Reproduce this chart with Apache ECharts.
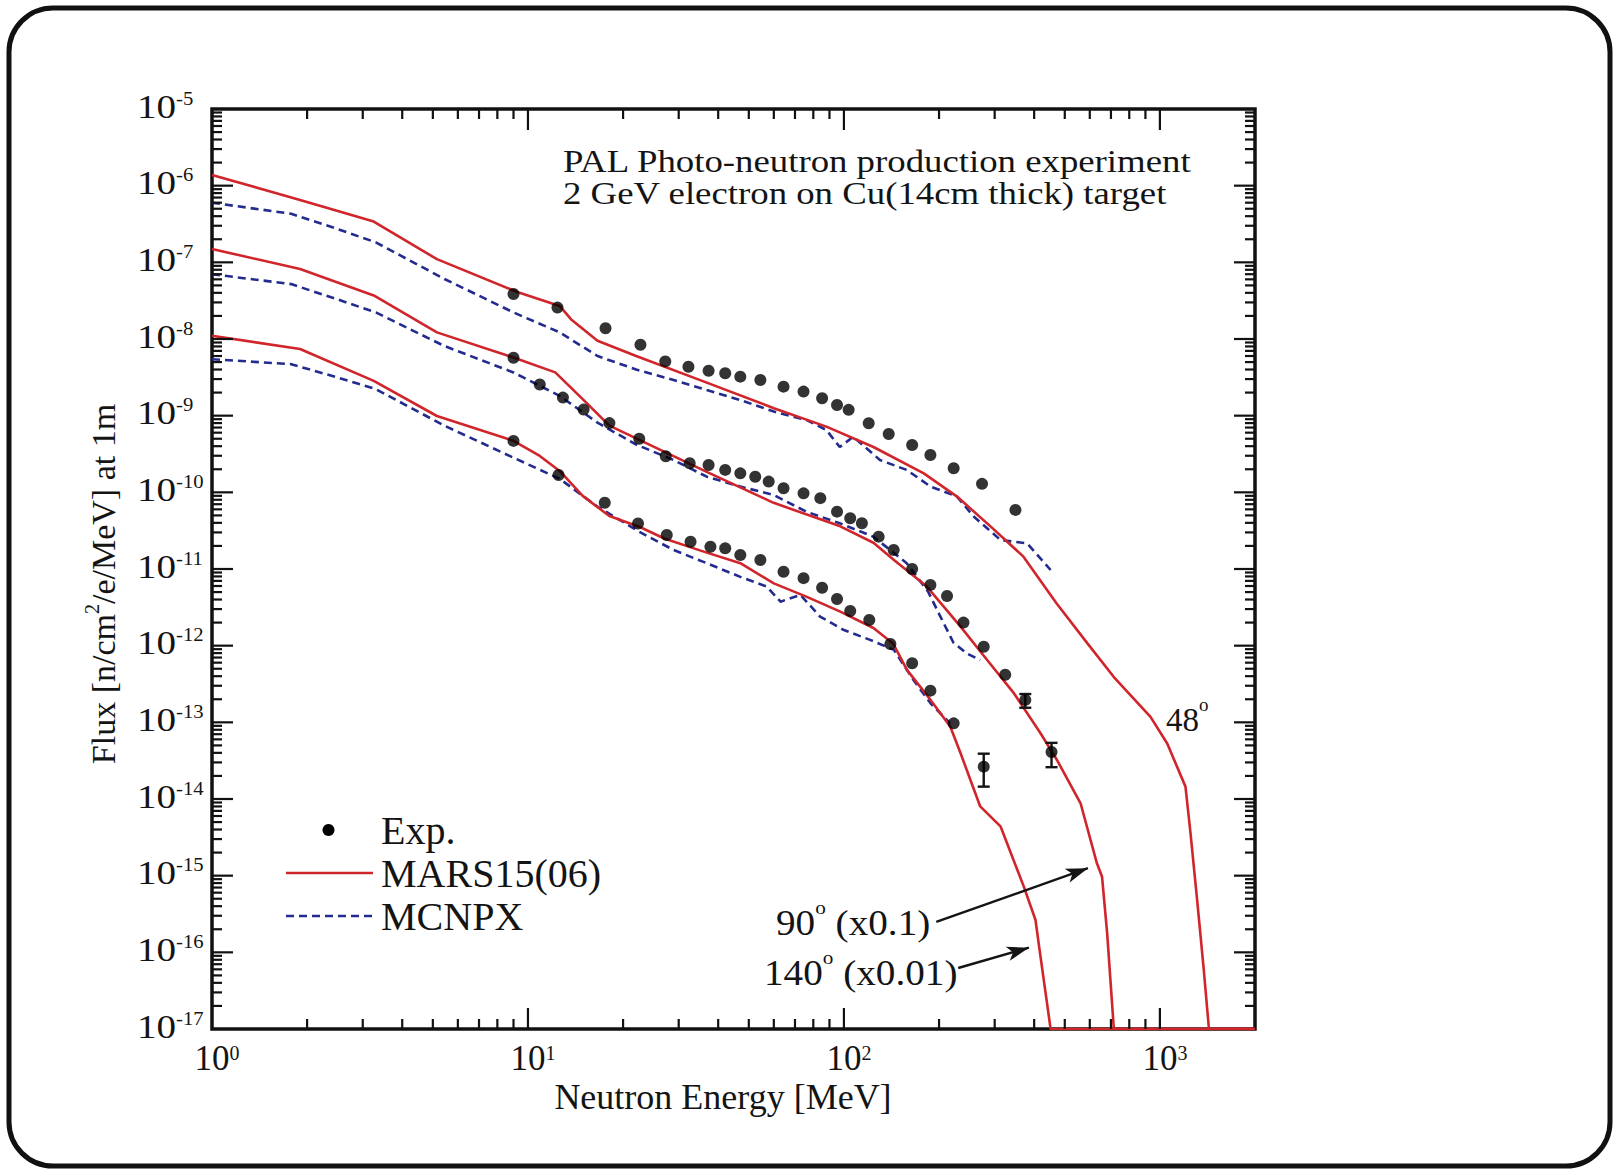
<!DOCTYPE html>
<html>
<head>
<meta charset="utf-8">
<title>PAL photo-neutron spectra</title>
<script src="https://cdn.jsdelivr.net/npm/echarts@6/dist/echarts.min.js"></script>
<style>
  html, body { margin: 0; padding: 0; background: #ffffff; }
  #chart { width: 1619px; height: 1174px; }
</style>
</head>
<body>
<div id="chart"></div>
<script>
// ---- Measured neutron spectra: [energy MeV, flux n/cm^2/e/MeV at 1 m] ----
const exp48 = [
  [9.0, 3.86e-8], [12.4, 2.57e-8], [17.6, 1.38e-8], [22.7, 8.4e-9], [27.2, 5.1e-9],
  [32.2, 4.35e-9], [37.3, 3.86e-9], [42.1, 3.57e-9], [47, 3.23e-9], [54.4, 2.92e-9],
  [64.4, 2.39e-9], [74.5, 2.06e-9], [85.3, 1.69e-9], [95.1, 1.38e-9], [103.5, 1.19e-9],
  [119.8, 7.95e-10], [138.6, 5.77e-10], [164.4, 4.15e-10], [187.8, 3.07e-10],
  [222.5, 2.06e-10], [273.6, 1.29e-10], [349, 5.9e-11]
];
const exp90 = [
  [9.0, 5.7e-9], [10.9, 2.55e-9], [12.9, 1.72e-9], [15.0, 1.2e-9], [18.1, 8.0e-10],
  [22.5, 5.0e-10], [27.3, 2.95e-10], [32.5, 2.4e-10], [37.3, 2.27e-10], [42.1, 1.96e-10],
  [47, 1.77e-10], [52.4, 1.6e-10], [57.8, 1.38e-10], [64.4, 1.13e-10], [74.5, 9.7e-11],
  [84.2, 8.4e-11], [95.1, 5.6e-11], [104.7, 4.6e-11], [114, 3.95e-11], [128.8, 2.64e-11],
  [143.7, 1.77e-11], [164.4, 1.0e-11], [187.8, 6.2e-12], [212, 4.45e-12], [239, 2.0e-12],
  [277, 9.7e-13], [324, 4.17e-13], [375, 1.96e-13], [454, 4.1e-14]
];
const exp140 = [
  [9.0, 4.69e-10], [12.5, 1.68e-10], [17.5, 7.3e-11], [22.3, 3.93e-11], [27.5, 2.78e-11],
  [32.7, 2.27e-11], [37.8, 1.95e-11], [42.1, 1.86e-11], [47, 1.52e-11], [54.4, 1.31e-11],
  [64.4, 9.2e-12], [74.5, 7.6e-12], [85.3, 5.7e-12], [95.1, 4.07e-12], [104.7, 2.83e-12],
  [120.3, 2.16e-12], [140.3, 1.05e-12], [164.4, 5.9e-13], [187.8, 2.59e-13],
  [222.5, 9.7e-14], [277, 2.64e-14]
];
// [energy, lower flux, upper flux] for the points carrying error bars
const expErrorBars = [
  [375, 1.55e-13, 2.34e-13],
  [454, 2.6e-14, 5.4e-14],
  [277, 1.45e-14, 3.9e-14]
];

// ---- MARS15(06) calculations ----
const mars48 = [
  [1.0, 1.38e-6], [1.9, 6.5e-7], [3.25, 3.4e-7], [5.15, 1.1e-7], [9.25, 4.1e-8],
  [12.6, 2.7e-8], [13.7, 1.8e-8], [16.6, 9.5e-9], [22, 6.0e-9], [36.8, 2.7e-9],
  [60, 1.25e-9], [88, 7.2e-10], [124, 3.9e-10], [179, 1.77e-10], [228, 8.8e-11],
  [291, 3.6e-11], [370, 1.45e-11], [470, 3.6e-12], [589, 1.08e-12], [715, 3.9e-13],
  [934, 1.18e-13], [1055, 5.3e-14], [1205, 1.45e-14], [1250, 3.6e-15], [1312, 4.8e-16],
  [1374, 6.5e-17], [1430, 1e-17], [2000, 1e-17]
];
const mars90 = [
  [1.0, 1.49e-7], [1.9, 8.2e-8], [3.25, 3.7e-8], [5.15, 1.22e-8], [9.0, 5.75e-9],
  [12.2, 3.67e-9], [14.9, 1.64e-9], [18.1, 7.4e-10], [22.6, 4.8e-10], [36.8, 1.85e-10],
  [59.9, 7.3e-11], [97.4, 3.6e-11], [124, 2.2e-11], [144, 1.31e-11], [183, 5.9e-12],
  [234, 1.77e-12], [284, 6.5e-13], [345, 2.4e-13], [419, 7.2e-14], [473, 3.2e-14],
  [561, 8.8e-15], [632, 1.45e-15], [656, 9.7e-16], [681, 1.77e-16], [715, 1e-17],
  [2000, 1e-17]
];
const mars140 = [
  [1.0, 1.1e-8], [1.9, 7.4e-9], [3.25, 2.84e-9], [5.15, 9.9e-10], [9.0, 4.7e-10],
  [10.9, 2.98e-10], [12.6, 1.9e-10], [14.9, 9.0e-11], [18.1, 4.9e-11], [22.7, 3.5e-11],
  [27, 2.5e-11], [35, 1.75e-11], [47, 1.19e-11], [60, 6.5e-12], [76, 4.36e-12],
  [97, 2.8e-12], [124, 1.7e-12], [143, 1.07e-12], [158.5, 4.8e-13], [188, 1.96e-13],
  [217, 8.8e-14], [234, 3.95e-14], [270, 8e-15], [313, 4.4e-15], [371, 7.2e-16],
  [404, 2.64e-16], [414, 1.25e-16], [451, 1e-17], [2000, 1e-17]
];

// ---- MCNPX calculations ----
const mcnp48 = [
  [1.0, 6.0e-7], [1.78, 4.3e-7], [2.49, 2.73e-7], [3.3, 1.82e-7], [5.44, 6.07e-8],
  [9.0, 2.22e-8], [12.6, 1.22e-8], [16.6, 6.0e-9], [22, 4.0e-9], [28.9, 2.92e-9],
  [36.8, 2.16e-9], [47, 1.6e-9], [60, 1.13e-9], [76, 8.8e-10], [88, 6.5e-10],
  [97, 3.9e-10], [107, 5.3e-10], [130, 2.64e-10], [158, 1.96e-10], [188, 1.19e-10],
  [228, 8.8e-11], [258, 4.8e-11], [313, 2.39e-11], [380, 2.16e-11], [451, 9.7e-12]
];
const mcnp90 = [
  [1.0, 7.0e-8], [1.78, 5.2e-8], [2.49, 3.3e-8], [3.3, 2.22e-8], [5.44, 8.1e-9],
  [9.0, 3.66e-9], [12.6, 1.81e-9], [16.6, 8.1e-10], [22, 4.2e-10], [28.9, 2.64e-10],
  [36.8, 1.6e-10], [47, 1.19e-10], [60, 9.2e-11], [76, 5.6e-11], [97, 3.95e-11],
  [124, 2.64e-11], [158, 1.19e-11], [185, 5.0e-12], [200, 2.6e-12], [222, 1.1e-12],
  [245, 7.9e-13], [270, 6.5e-13]
];
const mcnp140 = [
  [1.0, 5.45e-9], [1.78, 4.7e-9], [2.49, 3.15e-9], [3.3, 2.22e-9], [5.44, 7.4e-10],
  [9.0, 2.83e-10], [12.6, 1.5e-10], [16.6, 6.5e-11], [22.7, 3.0e-11], [28.9, 1.77e-11],
  [36.8, 1.19e-11], [47, 7.9e-12], [57, 5.9e-12], [63, 3.75e-12], [72.8, 4.6e-12],
  [84, 2.4e-12], [100, 1.6e-12], [121, 1.19e-12], [144, 8.8e-13], [166, 3.56e-13],
  [188, 1.77e-13], [217, 9.7e-14]
];

// ---- Axis ranges and decade labels ----
const X_MIN = 1, X_MAX = 2000;
const Y_MIN = 1e-17, Y_MAX = 1e-5;
const xLabelPowers = [0, 1, 2, 3];
const yLabelPowers = [-5, -6, -7, -8, -9, -10, -11, -12, -13, -14, -15, -16, -17];

// ---- Annotation arrows (data space): tail, tip ----
const arrow90 = [[196, 2.49e-16], [592, 1.25e-15]];
const arrow140 = [[230, 6.25e-17], [385, 1.15e-16]];

const SERIF = "'Liberation Serif','Times New Roman',Times,serif";
const INK = '#141414';
const RED = '#d0252b';
const BLUE = '#232c8e';
const LINE_W = 2.6;
const DASH = [8, 5];

function marsSeries(data, extra) {
  return Object.assign({
    type: 'line', name: 'MARS15(06)', data: data,
    symbol: 'none', showSymbol: false,
    lineStyle: { color: RED, width: LINE_W },
    itemStyle: { color: RED },
    z: 4
  }, extra || {});
}
function mcnpSeries(data) {
  return {
    type: 'line', name: 'MCNPX', data: data,
    symbol: 'none', showSymbol: false,
    lineStyle: { color: BLUE, width: LINE_W, type: DASH },
    itemStyle: { color: BLUE },
    z: 3
  };
}
function expSeries(data) {
  return {
    type: 'scatter', name: 'Exp.', data: data,
    symbol: 'circle', symbolSize: 12,
    itemStyle: { color: '#000000' },
    z: 6
  };
}

// Log-decade ticks on all four sides plus the decade labels
function renderFrame(params, api) {
  const bl = api.coord([X_MIN, Y_MIN]);
  const tr = api.coord([X_MAX, Y_MAX]);
  const xL = bl[0], yB = bl[1], xR = tr[0], yT = tr[1];
  const els = [];
  const tick = (x1, y1, x2, y2) => els.push({
    type: 'line', shape: { x1: x1, y1: y1, x2: x2, y2: y2 },
    style: { stroke: '#111', lineWidth: 2.2 }
  });
  const MAJOR = 21, MINOR = 10;
  for (let d = 0; d <= 3; d++) {
    for (let m = 1; m <= 9; m++) {
      const v = m * Math.pow(10, d);
      if (v <= X_MIN || v >= X_MAX) continue;
      const x = api.coord([v, Y_MIN])[0];
      const len = m === 1 ? MAJOR : MINOR;
      tick(x, yB, x, yB - len);
      tick(x, yT, x, yT + len);
    }
  }
  for (let d = -17; d <= -6; d++) {
    for (let m = 1; m <= 9; m++) {
      const v = m * Math.pow(10, d);
      if (v <= Y_MIN || v >= Y_MAX) continue;
      const y = api.coord([X_MIN, v])[1];
      const len = m === 1 ? MAJOR : MINOR;
      tick(xL, y, xL + len, y);
      tick(xR, y, xR - len, y);
    }
  }
  xLabelPowers.forEach(function (p) {
    const x = api.coord([Math.pow(10, p), Y_MIN])[0];
    els.push({
      type: 'text', x: x - 17.5, y: yB + 29,
      style: {
        text: '{b|10}{e|' + p + '}', align: 'left', verticalAlign: 'middle',
        fill: INK, fontFamily: SERIF,
        rich: {
          b: { fontSize: 35, lineHeight: 30, fontFamily: SERIF, fill: INK },
          e: { fontSize: 20, lineHeight: 20, verticalAlign: 'top', fontFamily: SERIF, fill: INK }
        }
      }
    });
  });
  yLabelPowers.forEach(function (p) {
    const y = api.coord([X_MIN, Math.pow(10, p)])[1];
    els.push({
      type: 'text', x: xL - 75, y: y - 3, scaleX: 1.15,
      style: {
        text: '{b|10}{e|-' + (-p) + '}', align: 'left', verticalAlign: 'middle',
        fill: INK, fontFamily: SERIF,
        rich: {
          b: { fontSize: 34, lineHeight: 33, fontFamily: SERIF, fill: INK },
          e: { fontSize: 18, lineHeight: 18, verticalAlign: 'top', fontFamily: SERIF, fill: INK }
        }
      }
    });
  });
  return { type: 'group', children: els };
}

function renderErrorBar(params, api) {
  const e = api.value(0);
  const lo = api.coord([e, api.value(1)]);
  const hi = api.coord([e, api.value(2)]);
  const hw = 6;
  const st = { stroke: INK, lineWidth: 2.4 };
  return {
    type: 'group', children: [
      { type: 'line', shape: { x1: lo[0], y1: lo[1], x2: hi[0], y2: hi[1] }, style: st },
      { type: 'line', shape: { x1: hi[0] - hw, y1: hi[1], x2: hi[0] + hw, y2: hi[1] }, style: st },
      { type: 'line', shape: { x1: lo[0] - hw, y1: lo[1], x2: lo[0] + hw, y2: lo[1] }, style: st }
    ]
  };
}

// Legend key: dot, solid red and dashed blue samples with their names
const KEY_X0 = 286, KEY_X1 = 373, KEY_TEXT_X = 381;
const KEY_ROWS = [830, 873, 916];
const keyText = (y, text) => ({
  type: 'text', x: KEY_TEXT_X, y: y,
  style: { text: text, fontFamily: SERIF, fontSize: 40, fill: INK, align: 'left', verticalAlign: 'middle' }
});
const legendKey = {
  type: 'group', silent: true,
  children: [
    { type: 'circle', shape: { cx: (KEY_X0 + KEY_X1) / 2 - 1, cy: KEY_ROWS[0], r: 6 }, style: { fill: '#000' } },
    keyText(KEY_ROWS[0], 'Exp.'),
    { type: 'line', shape: { x1: KEY_X0, y1: KEY_ROWS[1], x2: KEY_X1, y2: KEY_ROWS[1] },
      style: { stroke: RED, lineWidth: LINE_W } },
    keyText(KEY_ROWS[1], 'MARS15(06)'),
    { type: 'line', shape: { x1: KEY_X0, y1: KEY_ROWS[2], x2: KEY_X1, y2: KEY_ROWS[2] },
      style: { stroke: BLUE, lineWidth: LINE_W, lineDash: DASH } },
    keyText(KEY_ROWS[2], 'MCNPX')
  ]
};

const degText = (x, y, text, size, stretch) => ({
  type: 'text', x: x, y: y, scaleX: stretch,
  style: {
    text: text, fontFamily: SERIF, fontSize: size, lineHeight: 50,
    fill: INK, align: 'left', verticalAlign: 'middle',
    rich: { o: { fontSize: 19, lineHeight: 19, verticalAlign: 'top', fontFamily: SERIF, fill: INK } }
  }
});

const chart = echarts.init(document.getElementById('chart'), null, { renderer: 'svg' });

const option = {
  animation: false,
  backgroundColor: '#ffffff',
  grid: {
    left: 212, top: 109, width: 1043, height: 920,
    show: true, borderColor: '#111', borderWidth: 3.5, backgroundColor: 'transparent'
  },
  xAxis: {
    type: 'log', logBase: 10, min: X_MIN, max: X_MAX,
    axisLine: { show: false }, axisTick: { show: false },
    axisLabel: { show: false }, splitLine: { show: false }, minorTick: { show: false }
  },
  yAxis: {
    type: 'log', logBase: 10, min: Y_MIN, max: Y_MAX,
    axisLine: { show: false }, axisTick: { show: false },
    axisLabel: { show: false }, splitLine: { show: false }, minorTick: { show: false }
  },
  series: [
    mcnpSeries(mcnp48), mcnpSeries(mcnp90), mcnpSeries(mcnp140),
    marsSeries(mars48),
    marsSeries(mars90, {
      markLine: {
        silent: true, animation: false,
        symbol: ['none', 'arrow'], symbolSize: [11, 22],
        lineStyle: { color: INK, width: 2.4, type: 'solid' },
        label: { show: false },
        data: [
          [{ coord: arrow90[0] }, { coord: arrow90[1] }],
          [{ coord: arrow140[0] }, { coord: arrow140[1] }]
        ]
      }
    }),
    marsSeries(mars140),
    {
      type: 'custom', name: 'error bars', data: expErrorBars,
      encode: { x: 0, y: [1, 2] }, renderItem: renderErrorBar, z: 5, silent: true
    },
    expSeries(exp48), expSeries(exp90), expSeries(exp140),
    {
      type: 'custom', name: 'frame', data: [[X_MIN, Y_MIN]],
      encode: { x: 0, y: 1 }, renderItem: renderFrame, clip: false, z: 7, silent: true
    }
  ],
  graphic: [
    {
      type: 'rect', shape: { x: 9, y: 8, width: 1601, height: 1158, r: 44 },
      style: { fill: 'none', stroke: '#111', lineWidth: 5 }, silent: true
    },
    {
      type: 'text', x: 563, y: 177, scaleX: 1.15,
      style: { text: 'PAL Photo-neutron production experiment\n2 GeV electron on Cu(14cm thick) target',
               fontFamily: SERIF, fontSize: 32, lineHeight: 32,
               fill: INK, align: 'left', verticalAlign: 'middle' }
    },
    {
      type: 'text', x: 723, y: 1097,
      style: { text: 'Neutron Energy [MeV]', fontFamily: SERIF, fontSize: 36,
               fill: INK, align: 'center', verticalAlign: 'middle' }
    },
    {
      type: 'text', x: 103, y: 584, rotation: Math.PI / 2,
      style: {
        text: 'Flux [n/cm{s|2}/e/MeV] at 1m', fontFamily: SERIF, fontSize: 34, lineHeight: 42,
        fill: INK, align: 'center', verticalAlign: 'middle',
        rich: { s: { fontSize: 20, lineHeight: 20, verticalAlign: 'top', fontFamily: SERIF, fill: INK } }
      }
    },
    degText(1166, 720, '48{o|o}', 33, 1),
    degText(776, 923, '90{o|o} (x0.1)', 35, 1.12),
    degText(764, 973, '140{o|o} (x0.01)', 35, 1.12),
    legendKey
  ]
};

chart.setOption(option);
</script>
</body>
</html>
